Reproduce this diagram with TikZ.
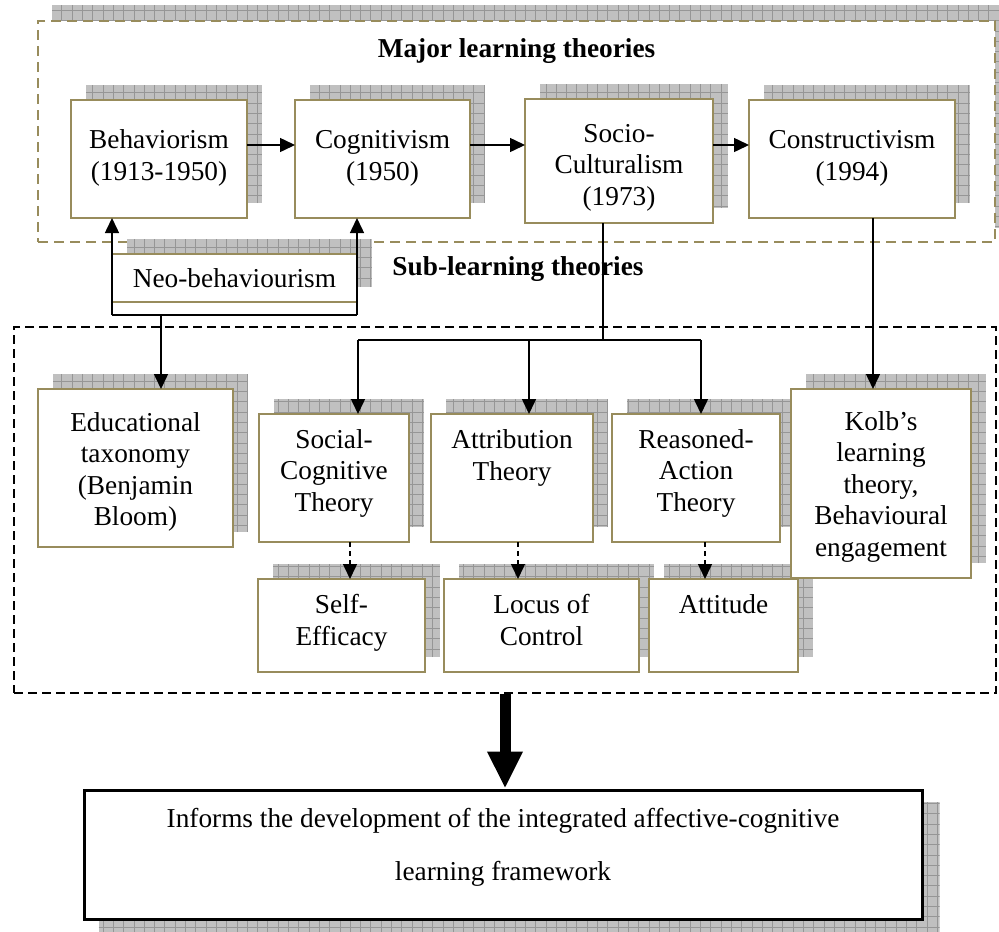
\documentclass[tikz,border=0pt]{standalone}
\usepackage{fontspec}
\setmainfont{Liberation Serif}
\usetikzlibrary{arrows.meta,fit,calc}
\pgfdeclarelayer{deep}
\pgfdeclarelayer{back}
\pgfdeclarelayer{bg}
\pgfsetlayers{deep,back,bg,main}

\definecolor{frameolive}{RGB}{152,140,92}
\definecolor{shfill}{RGB}{192,192,192}
\definecolor{shline}{RGB}{150,150,150}

% grey gridded drop shadow behind a named node, shifted by (#2,#3)
\newcommand\gridshadow[3]{%
  \begin{scope}
    \clip ([shift={(#2,#3)}]#1.south west) rectangle ([shift={(#2,#3)}]#1.north east);
    \fill[shfill] ([shift={(#2,#3)}]#1.south west) rectangle ([shift={(#2,#3)}]#1.north east);
    \draw[shline,line width=0.8pt,step=10.3pt] ([shift={(#2,#3)}]#1.south west) grid ([shift={(#2,#3)}]#1.north east);
  \end{scope}}

% text nodes are anchored at the baseline of their last line
\tikzset{
  tbox/.style={draw=frameolive, line width=2pt, fill=white, inner sep=0pt, outer sep=0pt},
  txt/.style={anchor=base, align=center, inner sep=0pt, font=\fontsize{27.3}{31.5}\selectfont},
  ttl/.style={anchor=base, inner sep=0pt, font=\fontsize{27.3}{31.5}\selectfont\bfseries},
  link/.style={line width=1.5pt},
  arr/.style={link, -{Triangle[length=15pt,width=14pt]}},
  darr/.style={arr, dash pattern=on 5pt off 4pt},
  bigarr/.style={line width=11pt, -{Triangle[length=37pt,width=33pt]}},
}

\begin{document}
\begin{tikzpicture}[x=1pt,y=-1pt]
\useasboundingbox (0,0) rectangle (999,932);

% frame around the major theories
\begin{pgfonlayer}{back}
  \node[draw=frameolive, fill=white, line width=2pt, dash pattern=on 10pt off 6pt,
        inner sep=0pt, fit={(38,21)(995,242)}] (major) {};
\end{pgfonlayer}
\begin{pgfonlayer}{deep}
  \gridshadow{major}{15}{-15}
\end{pgfonlayer}

% frame around the sub-learning theories
\node[draw=black, line width=1.8pt, dash pattern=on 9pt off 5pt,
      inner sep=0pt, fit={(14,327)(996,693)}] (subframe) {};

% boxes
\node[tbox, fit={(71,100)(247,218)}] (beh) {};
\node[tbox, fit={(295,100)(470,218)}] (cog) {};
\node[tbox, fit={(525,99)(713,223)}] (soc) {};
\node[tbox, fit={(749,100)(955,218)}] (con) {};
\node[tbox, fit={(112,254)(357,302)}] (neo) {};
\node[tbox, fit={(38,389)(233,547)}] (edu) {};
\node[tbox, fit={(259,414)(409,542)}] (sct) {};
\node[tbox, fit={(431,414)(593,542)}] (att) {};
\node[tbox, fit={(612,414)(780,542)}] (rat) {};
\node[tbox, fit={(791,389)(971,578)}] (kolb) {};
\node[tbox, fit={(258,579)(425,672)}] (se) {};
\node[tbox, fit={(444,579)(639,672)}] (loc) {};
\node[tbox, fit={(649,579)(798,672)}] (atd) {};
\node[draw=black, line width=3pt, fill=white, inner sep=0pt, fit={(84,790)(922,919)}] (final) {};

% shadows
\begin{pgfonlayer}{bg}
  \foreach \b in {beh,cog,soc,con,neo,edu,sct,att,rat,kolb,se,loc,atd}
    {\gridshadow{\b}{15}{-15}}
  \gridshadow{final}{16}{13}
\end{pgfonlayer}

% headings
\node[ttl] (majT) at (516.5,57) {Major learning theories};
\node[ttl] (subT) at (518,275) {Sub-learning theories};

% box texts
\node[txt] (behT) at (159,180) {Behaviorism\\(1913-1950)};
\node[txt] (cogT) at (382.5,180) {Cognitivism\\(1950)};
\node[txt] (socT) at (619,205) {Socio-\\Culturalism\\(1973)};
\node[txt] (conT) at (852,180) {Constructivism\\(1994)};
\node[txt] (neoT) at (234.5,287) {Neo-behaviourism};
\node[txt] (eduT) at (135.5,525.5) {Educational\\taxonomy\\(Benjamin\\Bloom)};
\node[txt] (sctT) at (334,511) {Social-\\Cognitive\\Theory};
\node[txt] (attT) at (512,480) {Attribution\\Theory};
\node[txt] (ratT) at (696,511) {Reasoned-\\Action\\Theory};
\node[txt] (kolbT) at (881,556) {Kolb’s\\learning\\theory,\\Behavioural\\engagement};
\node[txt] (seT) at (341.5,645) {Self-\\Efficacy};
\node[txt] (locT) at (541.5,645) {Locus of\\Control};
\node[txt] (atdT) at (723.5,613) {Attitude};
\node[txt, font=\fontsize{27.3}{53}\selectfont] (finT) at (503,880)
  {Informs the development of the integrated affective-cognitive\\learning framework};

% chain of major theories
\draw[arr] ([yshift=14pt]beh.east) -- ([yshift=14pt]cog.west);
\draw[arr] ([yshift=14pt]cog.east) -- ([yshift=14pt]cog.east -| soc.west);
\draw[arr] ([yshift=14pt]con.west -| soc.east) -- ([yshift=14pt]con.west);

% neo-behaviourism bracket
\coordinate (nbl) at (112,315);
\coordinate (nbr) at (357,315);
\coordinate (nedu) at (161,315);
\draw[link] (nbl) -- (nbr);
\draw[arr] (nbl) -- (nbl |- beh.south);
\draw[arr] (nbr) -- (nbr |- cog.south);
\draw[arr] (nedu) -- (nedu |- edu.north);

% socio-culturalism branches
\coordinate (split) at (603,340);
\coordinate (dsct) at (358,340);
\coordinate (datt) at (529,340);
\coordinate (drat) at (701,340);
\draw[link] (split |- soc.south) -- (split);
\draw[link] (dsct) -- (drat);
\draw[arr] (dsct) -- (dsct |- sct.north);
\draw[arr] (datt) -- (datt |- att.north);
\draw[arr] (drat) -- (drat |- rat.north);

% constructivism to Kolb
\draw[arr] ([xshift=21pt]con.south) -- ([xshift=21pt]con.south |- kolb.north);

% sub-theories to constructs
\draw[darr] ([xshift=16pt]sct.south) -- ([xshift=16pt]sct.south |- se.north);
\draw[darr] ([xshift=6pt]att.south) -- ([xshift=6pt]att.south |- loc.north);
\draw[darr] ([xshift=9pt]rat.south) -- ([xshift=9pt]rat.south |- atd.north);

% outcome
\draw[bigarr] (subframe.south) -- (subframe.south |- final.north);
\end{tikzpicture}
\end{document}
